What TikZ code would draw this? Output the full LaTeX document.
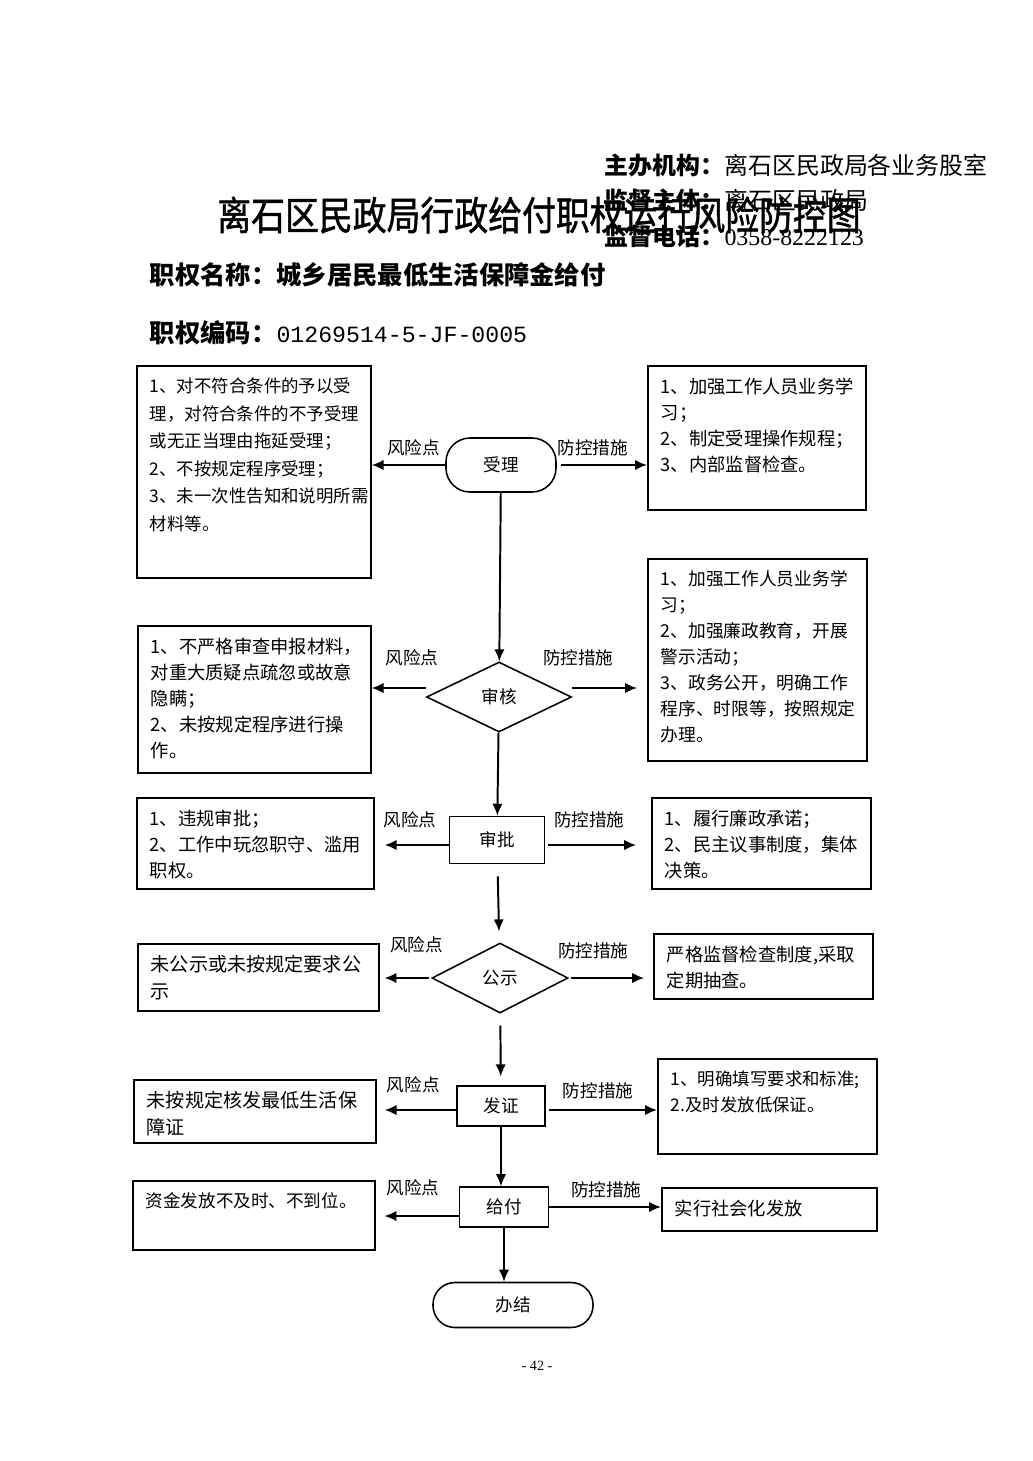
\documentclass[tikz,border=0pt]{standalone}
\usepackage{fontspec}
\setmainfont{Noto Sans CJK SC}
\newfontfamily\titlefont[FakeStretch=0.86,FakeBold=1.2]{Noto Sans CJK SC}
\newfontfamily\digitfont{Liberation Serif}
\newfontfamily\codefont{Liberation Mono}
\usetikzlibrary{arrows.meta,shapes.geometric,positioning,calc}

% text block of a risk / control box: width, height, lines
\newcommand{\boxlines}[3]{\parbox[t][#2][t]{#1}{\raggedright #3}}

\begin{document}
\begin{tikzpicture}[x=0.025cm, y=-0.025cm,
    riskbox/.style={draw, line width=1.1pt, anchor=north west, inner xsep=0.325cm, inner ysep=0.3cm,
        font=\fontsize{13pt}{18.5pt}\selectfont},
    stepbox/.style={draw, line width=1.1pt, rectangle, inner sep=0, font=\fontsize{12.5pt}{15pt}\selectfont},
    terminal/.style={stepbox, rounded corners=0.6cm},
    decision/.style={stepbox, diamond},
    tag/.style={inner sep=0, font=\fontsize{12.5pt}{15pt}\selectfont},
    flow/.style={line width=1.4pt, -{Latex[length=3mm,width=2.6mm]}}]

    \useasboundingbox (0,0) rectangle (1033,1461);

    % Header
    \node [anchor=west, font=\fontsize{17pt}{20pt}\selectfont] (org) at (600,165) {\textbf{主办机构：}离石区民政局各业务股室};
    \node [anchor=west, font=\fontsize{17pt}{20pt}\selectfont] (super) at (600,200) {\textbf{监督主体：}离石区民政局};
    \node [anchor=west, font=\fontsize{17pt}{20pt}\selectfont] (phone) at (600,236) {\textbf{监督电话：}{\digitfont 0358-8222123}};
    \node [font=\titlefont\fontsize{28pt}{30pt}\selectfont] (title) at (539,215) {离石区民政局行政给付职权运行风险防控图};
    \node [anchor=west, font=\bfseries\fontsize{18pt}{20pt}\selectfont] (pname) at (145,275) {职权名称：城乡居民最低生活保障金给付};
    \node [anchor=west, font=\bfseries\fontsize{18pt}{20pt}\selectfont] (pcode) at (145,333) {职权编码：{\codefont\mdseries\fontsize{16.5pt}{20pt}\selectfont 01269514-5-JF-0005}};

    % Main steps
    \node [terminal, minimum width=2.75cm, minimum height=1.35cm] (accept) at (501,465) {受理};
    \node [decision, minimum width=3.625cm, minimum height=1.75cm] (review) at (499,697) {审核};
    \node [stepbox, minimum width=2.375cm, minimum height=1.175cm] (approve) at (497,840) {审批};
    \node [decision, minimum width=3.4cm, minimum height=1.75cm] (publicize) at (500,978) {公示};
    \node [stepbox, minimum width=2.2cm, minimum height=1cm] (issue) at (501,1106) {发证};
    \node [stepbox, minimum width=2.225cm, minimum height=1cm] (pay) at (504,1207) {给付};
    \node [terminal, rounded corners=0.55cm, minimum width=4cm, minimum height=1.125cm] (finish) at (513,1305) {办结};

    % Risk points
    \node [riskbox, font=\fontsize{12.4pt}{19.6pt}\selectfont] (risk1) at (136,365) {\boxlines{5.2cm}{4.7cm}{1、对不符合条件的予以受\\理，对符合条件的不予受理\\或无正当理由拖延受理；\\2、不按规定程序受理；\\3、未一次性告知和说明所需\\材料等。}};
    \node [riskbox] (risk2) at (137,625) {\boxlines{5.175cm}{3.075cm}{1、不严格审查申报材料，\\对重大质疑点疏忽或故意\\隐瞒；\\2、未按规定程序进行操\\作。}};
    \node [riskbox] (risk3) at (136,797) {\boxlines{5.275cm}{1.675cm}{1、违规审批；\\2、工作中玩忽职守、滥用\\职权。}};
    \node [riskbox, font=\fontsize{13.6pt}{18.5pt}\selectfont] (risk4) at (137,943) {\boxlines{5.375cm}{1.075cm}{未公示或未按规定要求公\\示}};
    \node [riskbox, font=\fontsize{13.6pt}{18.5pt}\selectfont] (risk5) at (133,1079) {\boxlines{5.4cm}{0.975cm}{未按规定核发最低生活保\\障证}};
    \node [riskbox, font=\fontsize{12.5pt}{18.5pt}\selectfont] (risk6) at (132,1180) {\boxlines{5.4cm}{1.125cm}{资金发放不及时、不到位。}};

    % Control measures
    \node [riskbox] (ctrl1) at (647,365) {\boxlines{4.8cm}{3cm}{1、加强工作人员业务学\\习；\\2、制定受理操作规程；\\3、内部监督检查。}};
    \node [riskbox, font=\fontsize{12.6pt}{18.4pt}\selectfont] (ctrl2) at (647,558) {\boxlines{4.825cm}{4.45cm}{1、加强工作人员业务学\\习；\\2、加强廉政教育，开展\\警示活动；\\3、政务公开，明确工作\\程序、时限等，按照规定\\办理。}};
    \node [riskbox] (ctrl3) at (651,797) {\boxlines{4.825cm}{1.675cm}{1、履行廉政承诺；\\2、民主议事制度，集体\\决策。}};
    \node [riskbox] (ctrl4) at (653,933) {\boxlines{4.825cm}{1.025cm}{严格监督检查制度,采取\\定期抽查。}};
    \node [riskbox, font=\fontsize{12.4pt}{18.5pt}\selectfont] (ctrl5) at (657,1058) {\boxlines{4.825cm}{1.775cm}{1、明确填写要求和标准;\\2.及时发放低保证。}};
    \node [riskbox] (ctrl6) at (661,1187) {\boxlines{4.725cm}{0.475cm}{实行社会化发放}};

    % Main flow
    \draw [flow] (accept) -- (review);
    \draw [flow] (review) -- (approve);
    \draw [flow, shorten <=0.3cm, shorten >=0.28cm] (approve) -- (publicize);
    \draw [flow, shorten <=0.3cm, shorten >=0.22cm] (publicize) -- (issue);
    \draw [flow] (issue.south) -- (issue.south |- pay.north);
    \draw [flow] (pay.south) -- (pay.south |- finish.north);

    % Risk points and control measures
    \draw [flow] (accept.west) -- node[tag, pos=0.43, above=0.2cm] {风险点} (accept.west -| risk1.east);
    \draw [flow, shorten <=0.1cm] (accept.east) -- node[tag, pos=0.4, above=0.2cm] {防控措施} (accept.east -| ctrl1.west);

    \draw [flow] ($(review.west)+(0,-9)$) -- node[tag, pos=0.25, above=0.53cm] {风险点} ($(review.west -| risk2.east)+(0,-9)$);
    \draw [flow, shorten >=0.25cm] ($(review.east)+(0,-9)$) -- node[tag, pos=0.08, above=0.53cm] {防控措施} ($(review.east -| ctrl2.west)+(0,-9)$);

    \draw [flow, shorten >=0.25cm] ($(approve.west)+(0,5)$) -- node[tag, pos=0.52, above=0.4cm] {风险点} ($(approve.west -| risk3.east)+(0,5)$);
    \draw [flow, shorten <=0.08cm, shorten >=0.37cm] ($(approve.east)+(0,5)$) -- node[tag, pos=0.415, above=0.4cm] {防控措施} ($(approve.east -| ctrl3.west)+(0,5)$);

    \draw [flow, shorten <=0.05cm, shorten >=0.12cm] (publicize.west) -- node[tag, pos=0.28, above=0.6cm] {风险点} (publicize.west -| risk4.east);
    \draw [flow, shorten <=0.05cm, shorten >=0.22cm] (publicize.east) -- node[tag, pos=0.29, above=0.45cm] {防控措施} (publicize.east -| ctrl4.west);

    \draw [flow, shorten >=0.2cm] ($(issue.west)+(0,4)$) -- node[tag, pos=0.54, above=0.4cm] {风险点} ($(issue.west -| risk5.east)+(0,4)$);
    \draw [flow, shorten <=0.08cm] ($(issue.east)+(0,4)$) -- node[tag, pos=0.47, above=0.25cm] {防控措施} ($(issue.east -| ctrl5.west)+(0,4)$);

    \draw [flow, shorten >=0.22cm] ($(pay.west)+(0,9)$) -- node[tag, pos=0.55, above=0.48cm] {风险点} ($(pay.west -| risk6.east)+(0,9)$);
    \draw [flow] (pay.east) -- node[tag, pos=0.51, above=0.2cm] {防控措施} (pay.east -| ctrl6.west);

    % Page number
    \node [font=\digitfont\fontsize{10pt}{12pt}\selectfont] (pageno) at (537,1366) {- 42 -};

\end{tikzpicture}
\end{document}
